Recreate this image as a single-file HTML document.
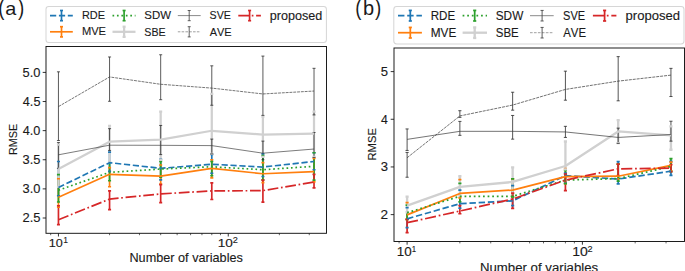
<!DOCTYPE html>
<html><head><meta charset="utf-8"><title>RMSE vs number of variables</title>
<style>
html,body{margin:0;padding:0;background:#fff;}
body{width:685px;height:271px;overflow:hidden;}
svg{display:block;font-family:"Liberation Sans",sans-serif;font-kerning:none;}
</style></head>
<body>
<svg width="685" height="271" viewBox="0 0 685 271">
<rect width="685" height="271" fill="#fff"/>
<defs><clipPath id="cl"><rect x="46.0" y="46.5" width="280.5" height="186.8"/></clipPath><clipPath id="cr"><rect x="394.0" y="48.0" width="290.5" height="193.5"/></clipPath></defs>
<g clip-path="url(#cl)">
<line x1="58.45" y1="161.51" x2="58.45" y2="195.75" stroke="#1f77b4" stroke-width="1.68"/>
<line x1="109.56" y1="152.19" x2="109.56" y2="171.41" stroke="#1f77b4" stroke-width="1.68"/>
<line x1="160.68" y1="159.35" x2="160.68" y2="179.85" stroke="#1f77b4" stroke-width="1.68"/>
<line x1="211.79" y1="154.52" x2="211.79" y2="173.27" stroke="#1f77b4" stroke-width="1.68"/>
<line x1="262.91" y1="153.94" x2="262.91" y2="176.47" stroke="#1f77b4" stroke-width="1.68"/>
<line x1="314.02" y1="152.77" x2="314.02" y2="169.72" stroke="#1f77b4" stroke-width="1.68"/>
<line x1="58.45" y1="178.75" x2="58.45" y2="207.28" stroke="#ff7f0e" stroke-width="1.68"/>
<line x1="109.56" y1="167.62" x2="109.56" y2="186.78" stroke="#ff7f0e" stroke-width="1.68"/>
<line x1="160.68" y1="165.00" x2="160.68" y2="183.99" stroke="#ff7f0e" stroke-width="1.68"/>
<line x1="211.79" y1="159.76" x2="211.79" y2="177.81" stroke="#ff7f0e" stroke-width="1.68"/>
<line x1="262.91" y1="162.67" x2="262.91" y2="182.65" stroke="#ff7f0e" stroke-width="1.68"/>
<line x1="314.02" y1="158.30" x2="314.02" y2="181.89" stroke="#ff7f0e" stroke-width="1.68"/>
<line x1="58.45" y1="174.67" x2="58.45" y2="201.98" stroke="#2ca02c" stroke-width="1.68"/>
<line x1="109.56" y1="162.09" x2="109.56" y2="180.73" stroke="#2ca02c" stroke-width="1.68"/>
<line x1="160.68" y1="161.51" x2="160.68" y2="177.23" stroke="#2ca02c" stroke-width="1.68"/>
<line x1="211.79" y1="161.51" x2="211.79" y2="175.78" stroke="#2ca02c" stroke-width="1.68"/>
<line x1="262.91" y1="155.57" x2="262.91" y2="179.85" stroke="#2ca02c" stroke-width="1.68"/>
<line x1="314.02" y1="152.77" x2="314.02" y2="180.14" stroke="#2ca02c" stroke-width="1.68"/>
<line x1="58.45" y1="144.62" x2="58.45" y2="186.84" stroke="#d0d0d0" stroke-width="2.24"/>
<line x1="109.56" y1="125.75" x2="109.56" y2="162.09" stroke="#d0d0d0" stroke-width="2.24"/>
<line x1="160.68" y1="111.60" x2="160.68" y2="159.76" stroke="#d0d0d0" stroke-width="2.24"/>
<line x1="211.79" y1="93.95" x2="211.79" y2="153.94" stroke="#d0d0d0" stroke-width="2.24"/>
<line x1="262.91" y1="116.66" x2="262.91" y2="156.85" stroke="#d0d0d0" stroke-width="2.24"/>
<line x1="314.02" y1="111.60" x2="314.02" y2="156.85" stroke="#d0d0d0" stroke-width="2.24"/>
<line x1="58.45" y1="142.58" x2="58.45" y2="168.32" stroke="#262626" stroke-width="0.76"/>
<line x1="109.56" y1="128.66" x2="109.56" y2="150.44" stroke="#262626" stroke-width="0.76"/>
<line x1="160.68" y1="125.46" x2="160.68" y2="154.58" stroke="#262626" stroke-width="0.76"/>
<line x1="211.79" y1="139.08" x2="211.79" y2="153.94" stroke="#262626" stroke-width="0.76"/>
<line x1="262.91" y1="141.12" x2="262.91" y2="159.76" stroke="#262626" stroke-width="0.76"/>
<line x1="314.02" y1="132.50" x2="314.02" y2="157.43" stroke="#262626" stroke-width="0.76"/>
<line x1="58.45" y1="71.82" x2="58.45" y2="140.54" stroke="#262626" stroke-width="0.76"/>
<line x1="109.56" y1="56.97" x2="109.56" y2="101.29" stroke="#262626" stroke-width="0.76"/>
<line x1="160.68" y1="54.75" x2="160.68" y2="99.71" stroke="#262626" stroke-width="0.76"/>
<line x1="211.79" y1="65.82" x2="211.79" y2="105.25" stroke="#262626" stroke-width="0.76"/>
<line x1="262.91" y1="56.09" x2="262.91" y2="115.38" stroke="#262626" stroke-width="0.76"/>
<line x1="314.02" y1="68.32" x2="314.02" y2="114.92" stroke="#262626" stroke-width="0.76"/>
<line x1="58.45" y1="205.77" x2="58.45" y2="224.58" stroke="#d62728" stroke-width="1.68"/>
<line x1="109.56" y1="190.92" x2="109.56" y2="209.67" stroke="#d62728" stroke-width="1.68"/>
<line x1="160.68" y1="184.69" x2="160.68" y2="202.57" stroke="#d62728" stroke-width="1.68"/>
<line x1="211.79" y1="182.88" x2="211.79" y2="199.48" stroke="#d62728" stroke-width="1.68"/>
<line x1="262.91" y1="180.14" x2="262.91" y2="202.16" stroke="#d62728" stroke-width="1.68"/>
<line x1="314.02" y1="174.32" x2="314.02" y2="187.89" stroke="#d62728" stroke-width="1.68"/>
<line x1="56.94" y1="195.75" x2="59.96" y2="195.75" stroke="#1f77b4" stroke-width="1.68"/>
<line x1="56.94" y1="161.51" x2="59.96" y2="161.51" stroke="#1f77b4" stroke-width="1.68"/>
<line x1="108.05" y1="171.41" x2="111.08" y2="171.41" stroke="#1f77b4" stroke-width="1.68"/>
<line x1="108.05" y1="152.19" x2="111.08" y2="152.19" stroke="#1f77b4" stroke-width="1.68"/>
<line x1="159.17" y1="179.85" x2="162.19" y2="179.85" stroke="#1f77b4" stroke-width="1.68"/>
<line x1="159.17" y1="159.35" x2="162.19" y2="159.35" stroke="#1f77b4" stroke-width="1.68"/>
<line x1="210.28" y1="173.27" x2="213.31" y2="173.27" stroke="#1f77b4" stroke-width="1.68"/>
<line x1="210.28" y1="154.52" x2="213.31" y2="154.52" stroke="#1f77b4" stroke-width="1.68"/>
<line x1="261.40" y1="176.47" x2="264.42" y2="176.47" stroke="#1f77b4" stroke-width="1.68"/>
<line x1="261.40" y1="153.94" x2="264.42" y2="153.94" stroke="#1f77b4" stroke-width="1.68"/>
<line x1="312.51" y1="169.72" x2="315.54" y2="169.72" stroke="#1f77b4" stroke-width="1.68"/>
<line x1="312.51" y1="152.77" x2="315.54" y2="152.77" stroke="#1f77b4" stroke-width="1.68"/>
<line x1="56.94" y1="207.28" x2="59.96" y2="207.28" stroke="#ff7f0e" stroke-width="1.68"/>
<line x1="56.94" y1="178.75" x2="59.96" y2="178.75" stroke="#ff7f0e" stroke-width="1.68"/>
<line x1="108.05" y1="186.78" x2="111.08" y2="186.78" stroke="#ff7f0e" stroke-width="1.68"/>
<line x1="108.05" y1="167.62" x2="111.08" y2="167.62" stroke="#ff7f0e" stroke-width="1.68"/>
<line x1="159.17" y1="183.99" x2="162.19" y2="183.99" stroke="#ff7f0e" stroke-width="1.68"/>
<line x1="159.17" y1="165.00" x2="162.19" y2="165.00" stroke="#ff7f0e" stroke-width="1.68"/>
<line x1="210.28" y1="177.81" x2="213.31" y2="177.81" stroke="#ff7f0e" stroke-width="1.68"/>
<line x1="210.28" y1="159.76" x2="213.31" y2="159.76" stroke="#ff7f0e" stroke-width="1.68"/>
<line x1="261.40" y1="182.65" x2="264.42" y2="182.65" stroke="#ff7f0e" stroke-width="1.68"/>
<line x1="261.40" y1="162.67" x2="264.42" y2="162.67" stroke="#ff7f0e" stroke-width="1.68"/>
<line x1="312.51" y1="181.89" x2="315.54" y2="181.89" stroke="#ff7f0e" stroke-width="1.68"/>
<line x1="312.51" y1="158.30" x2="315.54" y2="158.30" stroke="#ff7f0e" stroke-width="1.68"/>
<line x1="56.94" y1="201.98" x2="59.96" y2="201.98" stroke="#2ca02c" stroke-width="1.68"/>
<line x1="56.94" y1="174.67" x2="59.96" y2="174.67" stroke="#2ca02c" stroke-width="1.68"/>
<line x1="108.05" y1="180.73" x2="111.08" y2="180.73" stroke="#2ca02c" stroke-width="1.68"/>
<line x1="108.05" y1="162.09" x2="111.08" y2="162.09" stroke="#2ca02c" stroke-width="1.68"/>
<line x1="159.17" y1="177.23" x2="162.19" y2="177.23" stroke="#2ca02c" stroke-width="1.68"/>
<line x1="159.17" y1="161.51" x2="162.19" y2="161.51" stroke="#2ca02c" stroke-width="1.68"/>
<line x1="210.28" y1="175.78" x2="213.31" y2="175.78" stroke="#2ca02c" stroke-width="1.68"/>
<line x1="210.28" y1="161.51" x2="213.31" y2="161.51" stroke="#2ca02c" stroke-width="1.68"/>
<line x1="261.40" y1="179.85" x2="264.42" y2="179.85" stroke="#2ca02c" stroke-width="1.68"/>
<line x1="261.40" y1="155.57" x2="264.42" y2="155.57" stroke="#2ca02c" stroke-width="1.68"/>
<line x1="312.51" y1="180.14" x2="315.54" y2="180.14" stroke="#2ca02c" stroke-width="1.68"/>
<line x1="312.51" y1="152.77" x2="315.54" y2="152.77" stroke="#2ca02c" stroke-width="1.68"/>
<line x1="56.94" y1="186.84" x2="59.96" y2="186.84" stroke="#d0d0d0" stroke-width="2.24"/>
<line x1="56.94" y1="144.62" x2="59.96" y2="144.62" stroke="#d0d0d0" stroke-width="2.24"/>
<line x1="108.05" y1="162.09" x2="111.08" y2="162.09" stroke="#d0d0d0" stroke-width="2.24"/>
<line x1="108.05" y1="125.75" x2="111.08" y2="125.75" stroke="#d0d0d0" stroke-width="2.24"/>
<line x1="159.17" y1="159.76" x2="162.19" y2="159.76" stroke="#d0d0d0" stroke-width="2.24"/>
<line x1="159.17" y1="111.60" x2="162.19" y2="111.60" stroke="#d0d0d0" stroke-width="2.24"/>
<line x1="210.28" y1="153.94" x2="213.31" y2="153.94" stroke="#d0d0d0" stroke-width="2.24"/>
<line x1="210.28" y1="93.95" x2="213.31" y2="93.95" stroke="#d0d0d0" stroke-width="2.24"/>
<line x1="261.40" y1="156.85" x2="264.42" y2="156.85" stroke="#d0d0d0" stroke-width="2.24"/>
<line x1="261.40" y1="116.66" x2="264.42" y2="116.66" stroke="#d0d0d0" stroke-width="2.24"/>
<line x1="312.51" y1="156.85" x2="315.54" y2="156.85" stroke="#d0d0d0" stroke-width="2.24"/>
<line x1="312.51" y1="111.60" x2="315.54" y2="111.60" stroke="#d0d0d0" stroke-width="2.24"/>
<line x1="56.94" y1="168.32" x2="59.96" y2="168.32" stroke="#262626" stroke-width="0.76"/>
<line x1="56.94" y1="142.58" x2="59.96" y2="142.58" stroke="#262626" stroke-width="0.76"/>
<line x1="108.05" y1="150.44" x2="111.08" y2="150.44" stroke="#262626" stroke-width="0.76"/>
<line x1="108.05" y1="128.66" x2="111.08" y2="128.66" stroke="#262626" stroke-width="0.76"/>
<line x1="159.17" y1="154.58" x2="162.19" y2="154.58" stroke="#262626" stroke-width="0.76"/>
<line x1="159.17" y1="125.46" x2="162.19" y2="125.46" stroke="#262626" stroke-width="0.76"/>
<line x1="210.28" y1="153.94" x2="213.31" y2="153.94" stroke="#262626" stroke-width="0.76"/>
<line x1="210.28" y1="139.08" x2="213.31" y2="139.08" stroke="#262626" stroke-width="0.76"/>
<line x1="261.40" y1="159.76" x2="264.42" y2="159.76" stroke="#262626" stroke-width="0.76"/>
<line x1="261.40" y1="141.12" x2="264.42" y2="141.12" stroke="#262626" stroke-width="0.76"/>
<line x1="312.51" y1="157.43" x2="315.54" y2="157.43" stroke="#262626" stroke-width="0.76"/>
<line x1="312.51" y1="132.50" x2="315.54" y2="132.50" stroke="#262626" stroke-width="0.76"/>
<line x1="56.94" y1="140.54" x2="59.96" y2="140.54" stroke="#262626" stroke-width="0.76"/>
<line x1="56.94" y1="71.82" x2="59.96" y2="71.82" stroke="#262626" stroke-width="0.76"/>
<line x1="108.05" y1="101.29" x2="111.08" y2="101.29" stroke="#262626" stroke-width="0.76"/>
<line x1="108.05" y1="56.97" x2="111.08" y2="56.97" stroke="#262626" stroke-width="0.76"/>
<line x1="159.17" y1="99.71" x2="162.19" y2="99.71" stroke="#262626" stroke-width="0.76"/>
<line x1="159.17" y1="54.75" x2="162.19" y2="54.75" stroke="#262626" stroke-width="0.76"/>
<line x1="210.28" y1="105.25" x2="213.31" y2="105.25" stroke="#262626" stroke-width="0.76"/>
<line x1="210.28" y1="65.82" x2="213.31" y2="65.82" stroke="#262626" stroke-width="0.76"/>
<line x1="261.40" y1="115.38" x2="264.42" y2="115.38" stroke="#262626" stroke-width="0.76"/>
<line x1="261.40" y1="56.09" x2="264.42" y2="56.09" stroke="#262626" stroke-width="0.76"/>
<line x1="312.51" y1="114.92" x2="315.54" y2="114.92" stroke="#262626" stroke-width="0.76"/>
<line x1="312.51" y1="68.32" x2="315.54" y2="68.32" stroke="#262626" stroke-width="0.76"/>
<line x1="56.94" y1="224.58" x2="59.96" y2="224.58" stroke="#d62728" stroke-width="1.68"/>
<line x1="56.94" y1="205.77" x2="59.96" y2="205.77" stroke="#d62728" stroke-width="1.68"/>
<line x1="108.05" y1="209.67" x2="111.08" y2="209.67" stroke="#d62728" stroke-width="1.68"/>
<line x1="108.05" y1="190.92" x2="111.08" y2="190.92" stroke="#d62728" stroke-width="1.68"/>
<line x1="159.17" y1="202.57" x2="162.19" y2="202.57" stroke="#d62728" stroke-width="1.68"/>
<line x1="159.17" y1="184.69" x2="162.19" y2="184.69" stroke="#d62728" stroke-width="1.68"/>
<line x1="210.28" y1="199.48" x2="213.31" y2="199.48" stroke="#d62728" stroke-width="1.68"/>
<line x1="210.28" y1="182.88" x2="213.31" y2="182.88" stroke="#d62728" stroke-width="1.68"/>
<line x1="261.40" y1="202.16" x2="264.42" y2="202.16" stroke="#d62728" stroke-width="1.68"/>
<line x1="261.40" y1="180.14" x2="264.42" y2="180.14" stroke="#d62728" stroke-width="1.68"/>
<line x1="312.51" y1="187.89" x2="315.54" y2="187.89" stroke="#d62728" stroke-width="1.68"/>
<line x1="312.51" y1="174.32" x2="315.54" y2="174.32" stroke="#d62728" stroke-width="1.68"/>
<polyline points="58.45,187.48 109.56,162.67 160.68,168.32 211.79,164.24 262.91,167.04 314.02,161.51" fill="none" stroke="#1f77b4" stroke-width="1.68" stroke-dasharray="6.22,2.69" stroke-linejoin="round"/>
<polyline points="58.45,197.15 109.56,174.32 160.68,176.07 211.79,168.32 262.91,173.74 314.02,171.70" fill="none" stroke="#ff7f0e" stroke-width="1.68" stroke-linejoin="round"/>
<polyline points="58.45,190.22 109.56,172.34 160.68,169.08 211.79,166.75 262.91,169.72 314.02,166.34" fill="none" stroke="#2ca02c" stroke-width="1.68" stroke-dasharray="1.68,2.77" stroke-linejoin="round"/>
<polyline points="58.45,169.08 109.56,141.71 160.68,139.61 211.79,130.76 262.91,134.60 314.02,133.55" fill="none" stroke="#d0d0d0" stroke-width="2.24" stroke-linejoin="round"/>
<polyline points="58.45,154.81 109.56,145.20 160.68,145.32 211.79,145.61 262.91,153.18 314.02,149.04" fill="none" stroke="#3a3a3a" stroke-width="0.67" stroke-linejoin="round"/>
<polyline points="58.45,106.59 109.56,76.94 160.68,84.28 211.79,88.12 262.91,93.95 314.02,91.04" fill="none" stroke="#333333" stroke-width="0.67" stroke-dasharray="2.91,0.90" stroke-linejoin="round"/>
<polyline points="58.45,219.75 109.56,199.07 160.68,193.89 211.79,190.92 262.91,190.63 314.02,182.01" fill="none" stroke="#d62728" stroke-width="1.68" stroke-dasharray="10.75,2.69,1.68,2.69" stroke-linejoin="round"/>
</g>
<line x1="42.70" y1="218.00" x2="46.00" y2="218.00" stroke="#111" stroke-width="0.85"/>
<line x1="42.70" y1="188.88" x2="46.00" y2="188.88" stroke="#111" stroke-width="0.85"/>
<line x1="42.70" y1="159.76" x2="46.00" y2="159.76" stroke="#111" stroke-width="0.85"/>
<line x1="42.70" y1="130.64" x2="46.00" y2="130.64" stroke="#111" stroke-width="0.85"/>
<line x1="42.70" y1="101.52" x2="46.00" y2="101.52" stroke="#111" stroke-width="0.85"/>
<line x1="42.70" y1="72.40" x2="46.00" y2="72.40" stroke="#111" stroke-width="0.85"/>
<line x1="58.45" y1="233.30" x2="58.45" y2="236.50" stroke="#111" stroke-width="0.85"/>
<line x1="228.25" y1="233.30" x2="228.25" y2="236.50" stroke="#111" stroke-width="0.85"/>
<line x1="50.68" y1="233.30" x2="50.68" y2="235.20" stroke="#222" stroke-width="0.7"/>
<line x1="109.56" y1="233.30" x2="109.56" y2="235.20" stroke="#222" stroke-width="0.7"/>
<line x1="139.47" y1="233.30" x2="139.47" y2="235.20" stroke="#222" stroke-width="0.7"/>
<line x1="160.68" y1="233.30" x2="160.68" y2="235.20" stroke="#222" stroke-width="0.7"/>
<line x1="177.14" y1="233.30" x2="177.14" y2="235.20" stroke="#222" stroke-width="0.7"/>
<line x1="190.58" y1="233.30" x2="190.58" y2="235.20" stroke="#222" stroke-width="0.7"/>
<line x1="201.95" y1="233.30" x2="201.95" y2="235.20" stroke="#222" stroke-width="0.7"/>
<line x1="211.79" y1="233.30" x2="211.79" y2="235.20" stroke="#222" stroke-width="0.7"/>
<line x1="220.48" y1="233.30" x2="220.48" y2="235.20" stroke="#222" stroke-width="0.7"/>
<line x1="279.36" y1="233.30" x2="279.36" y2="235.20" stroke="#222" stroke-width="0.7"/>
<line x1="309.27" y1="233.30" x2="309.27" y2="235.20" stroke="#222" stroke-width="0.7"/>
<rect x="46.00" y="46.50" width="280.50" height="186.80" fill="none" stroke="#111" stroke-width="0.95"/>
<text x="22.45" y="222.30" font-size="12.3" textLength="18.05" lengthAdjust="spacingAndGlyphs" fill="#1a1a1a" stroke="#1a1a1a" stroke-width="0.12">2.5</text>
<text x="22.61" y="193.18" font-size="12.3" textLength="17.84" lengthAdjust="spacingAndGlyphs" fill="#1a1a1a" stroke="#1a1a1a" stroke-width="0.12">3.0</text>
<text x="22.61" y="164.06" font-size="12.3" textLength="17.88" lengthAdjust="spacingAndGlyphs" fill="#1a1a1a" stroke="#1a1a1a" stroke-width="0.12">3.5</text>
<text x="22.81" y="134.94" font-size="12.3" textLength="17.64" lengthAdjust="spacingAndGlyphs" fill="#1a1a1a" stroke="#1a1a1a" stroke-width="0.12">4.0</text>
<text x="22.81" y="105.82" font-size="12.3" textLength="17.68" lengthAdjust="spacingAndGlyphs" fill="#1a1a1a" stroke="#1a1a1a" stroke-width="0.12">4.5</text>
<text x="22.59" y="76.70" font-size="12.3" textLength="17.87" lengthAdjust="spacingAndGlyphs" fill="#1a1a1a" stroke="#1a1a1a" stroke-width="0.12">5.0</text>
<text x="48.84" y="246.90" font-size="11.2" textLength="14.06" lengthAdjust="spacingAndGlyphs" fill="#1a1a1a" stroke="#1a1a1a" stroke-width="0.12">10</text>
<text x="63.25" y="242.70" font-size="8.8" textLength="4.77" lengthAdjust="spacingAndGlyphs" fill="#1a1a1a" stroke="#1a1a1a" stroke-width="0.12">1</text>
<text x="217.76" y="246.90" font-size="11.2" textLength="15.17" lengthAdjust="spacingAndGlyphs" fill="#1a1a1a" stroke="#1a1a1a" stroke-width="0.12">10</text>
<text x="232.74" y="242.50" font-size="8.8" textLength="5.13" lengthAdjust="spacingAndGlyphs" fill="#1a1a1a" stroke="#1a1a1a" stroke-width="0.12">2</text>
<text x="129.46" y="261.70" font-size="11.9" textLength="113.40" lengthAdjust="spacingAndGlyphs" fill="#1a1a1a" stroke="#1a1a1a" stroke-width="0.12">Number of variables</text>
<text transform="translate(16.60,155.08) rotate(-90)" x="0" y="0" font-size="10.6" textLength="31.15" lengthAdjust="spacingAndGlyphs" fill="#1a1a1a" stroke="#1a1a1a" stroke-width="0.12">RMSE</text>
<text x="-1.65" y="14.60" font-size="21.5" textLength="6.15" lengthAdjust="spacingAndGlyphs" fill="#1a1a1a">(</text>
<text x="5.16" y="14.60" font-size="19.0" textLength="11.04" lengthAdjust="spacingAndGlyphs" fill="#1a1a1a">a</text>
<text x="18.09" y="14.60" font-size="21.5" textLength="6.28" lengthAdjust="spacingAndGlyphs" fill="#1a1a1a">)</text>
<rect x="46.00" y="6.40" width="280.40" height="36.10" rx="2.80" fill="#fff" fill-opacity="0.8" stroke="#d6d6d6" stroke-width="1.01"/>
<line x1="50.00" y1="15.60" x2="72.80" y2="15.60" stroke="#1f77b4" stroke-width="1.68" stroke-dasharray="6.22,2.69"/>
<line x1="61.50" y1="10.50" x2="61.50" y2="20.70" stroke="#1f77b4" stroke-width="1.68"/>
<line x1="59.99" y1="10.50" x2="63.01" y2="10.50" stroke="#1f77b4" stroke-width="1.68"/>
<line x1="59.99" y1="20.70" x2="63.01" y2="20.70" stroke="#1f77b4" stroke-width="1.68"/>
<text x="81.90" y="19.10" font-size="11.5" textLength="23.07" lengthAdjust="spacingAndGlyphs" fill="#1a1a1a" stroke="#1a1a1a" stroke-width="0.12">RDE</text>
<line x1="50.00" y1="31.80" x2="72.80" y2="31.80" stroke="#ff7f0e" stroke-width="1.68"/>
<line x1="61.50" y1="26.70" x2="61.50" y2="36.90" stroke="#ff7f0e" stroke-width="1.68"/>
<line x1="59.99" y1="26.70" x2="63.01" y2="26.70" stroke="#ff7f0e" stroke-width="1.68"/>
<line x1="59.99" y1="36.90" x2="63.01" y2="36.90" stroke="#ff7f0e" stroke-width="1.68"/>
<text x="81.89" y="35.30" font-size="11.5" textLength="24.09" lengthAdjust="spacingAndGlyphs" fill="#1a1a1a" stroke="#1a1a1a" stroke-width="0.12">MVE</text>
<line x1="112.50" y1="15.60" x2="135.50" y2="15.60" stroke="#2ca02c" stroke-width="1.68" stroke-dasharray="1.68,2.77"/>
<line x1="124.10" y1="10.50" x2="124.10" y2="20.70" stroke="#2ca02c" stroke-width="1.68"/>
<line x1="122.59" y1="10.50" x2="125.61" y2="10.50" stroke="#2ca02c" stroke-width="1.68"/>
<line x1="122.59" y1="20.70" x2="125.61" y2="20.70" stroke="#2ca02c" stroke-width="1.68"/>
<text x="144.28" y="19.20" font-size="11.5" textLength="26.66" lengthAdjust="spacingAndGlyphs" fill="#1a1a1a" stroke="#1a1a1a" stroke-width="0.12">SDW</text>
<line x1="112.50" y1="31.80" x2="135.50" y2="31.80" stroke="#d0d0d0" stroke-width="2.24"/>
<line x1="124.10" y1="26.70" x2="124.10" y2="36.90" stroke="#d0d0d0" stroke-width="2.24"/>
<line x1="122.59" y1="26.70" x2="125.61" y2="26.70" stroke="#d0d0d0" stroke-width="2.24"/>
<line x1="122.59" y1="36.90" x2="125.61" y2="36.90" stroke="#d0d0d0" stroke-width="2.24"/>
<text x="144.32" y="35.60" font-size="11.5" textLength="21.34" lengthAdjust="spacingAndGlyphs" fill="#1a1a1a" stroke="#1a1a1a" stroke-width="0.12">SBE</text>
<line x1="177.80" y1="15.60" x2="200.70" y2="15.60" stroke="#8a8a8a" stroke-width="1.00"/>
<line x1="189.20" y1="10.50" x2="189.20" y2="20.70" stroke="#444444" stroke-width="0.84"/>
<line x1="187.69" y1="10.50" x2="190.71" y2="10.50" stroke="#444444" stroke-width="0.84"/>
<line x1="187.69" y1="20.70" x2="190.71" y2="20.70" stroke="#444444" stroke-width="0.84"/>
<text x="209.62" y="19.20" font-size="11.5" textLength="21.24" lengthAdjust="spacingAndGlyphs" fill="#1a1a1a" stroke="#1a1a1a" stroke-width="0.12">SVE</text>
<line x1="177.80" y1="31.80" x2="200.70" y2="31.80" stroke="#a0a0a0" stroke-width="1.00" stroke-dasharray="2.58,1.23"/>
<line x1="189.20" y1="26.70" x2="189.20" y2="36.90" stroke="#444444" stroke-width="0.84"/>
<line x1="187.69" y1="26.70" x2="190.71" y2="26.70" stroke="#444444" stroke-width="0.84"/>
<line x1="187.69" y1="36.90" x2="190.71" y2="36.90" stroke="#444444" stroke-width="0.84"/>
<text x="209.68" y="35.50" font-size="11.5" textLength="21.89" lengthAdjust="spacingAndGlyphs" fill="#1a1a1a" stroke="#1a1a1a" stroke-width="0.12">AVE</text>
<line x1="238.30" y1="15.60" x2="260.90" y2="15.60" stroke="#d62728" stroke-width="1.68" stroke-dasharray="10.75,2.69,1.68,2.69"/>
<line x1="249.60" y1="10.50" x2="249.60" y2="20.70" stroke="#d62728" stroke-width="1.68"/>
<line x1="248.09" y1="10.50" x2="251.11" y2="10.50" stroke="#d62728" stroke-width="1.68"/>
<line x1="248.09" y1="20.70" x2="251.11" y2="20.70" stroke="#d62728" stroke-width="1.68"/>
<text x="269.69" y="19.50" font-size="12.0" textLength="52.52" lengthAdjust="spacingAndGlyphs" fill="#1a1a1a" stroke="#1a1a1a" stroke-width="0.12">proposed</text>
<g clip-path="url(#cr)">
<line x1="407.10" y1="207.65" x2="407.10" y2="227.72" stroke="#1f77b4" stroke-width="1.74"/>
<line x1="459.87" y1="190.06" x2="459.87" y2="208.22" stroke="#1f77b4" stroke-width="1.74"/>
<line x1="512.64" y1="185.63" x2="512.64" y2="205.55" stroke="#1f77b4" stroke-width="1.74"/>
<line x1="565.41" y1="173.04" x2="565.41" y2="183.15" stroke="#1f77b4" stroke-width="1.74"/>
<line x1="618.18" y1="161.55" x2="618.18" y2="183.86" stroke="#1f77b4" stroke-width="1.74"/>
<line x1="670.95" y1="161.36" x2="670.95" y2="175.33" stroke="#1f77b4" stroke-width="1.74"/>
<line x1="407.10" y1="202.74" x2="407.10" y2="219.38" stroke="#ff7f0e" stroke-width="1.74"/>
<line x1="459.87" y1="179.67" x2="459.87" y2="197.93" stroke="#ff7f0e" stroke-width="1.74"/>
<line x1="512.64" y1="178.86" x2="512.64" y2="196.97" stroke="#ff7f0e" stroke-width="1.74"/>
<line x1="565.41" y1="168.51" x2="565.41" y2="183.62" stroke="#ff7f0e" stroke-width="1.74"/>
<line x1="618.18" y1="164.03" x2="618.18" y2="178.86" stroke="#ff7f0e" stroke-width="1.74"/>
<line x1="670.95" y1="162.17" x2="670.95" y2="170.75" stroke="#ff7f0e" stroke-width="1.74"/>
<line x1="407.10" y1="205.08" x2="407.10" y2="219.38" stroke="#2ca02c" stroke-width="1.74"/>
<line x1="459.87" y1="183.43" x2="459.87" y2="201.83" stroke="#2ca02c" stroke-width="1.74"/>
<line x1="512.64" y1="178.86" x2="512.64" y2="196.97" stroke="#2ca02c" stroke-width="1.74"/>
<line x1="565.41" y1="170.42" x2="565.41" y2="183.62" stroke="#2ca02c" stroke-width="1.74"/>
<line x1="618.18" y1="164.08" x2="618.18" y2="181.05" stroke="#2ca02c" stroke-width="1.74"/>
<line x1="670.95" y1="158.55" x2="670.95" y2="171.71" stroke="#2ca02c" stroke-width="1.74"/>
<line x1="407.10" y1="196.64" x2="407.10" y2="212.23" stroke="#d0d0d0" stroke-width="2.32"/>
<line x1="459.87" y1="176.24" x2="459.87" y2="195.54" stroke="#d0d0d0" stroke-width="2.32"/>
<line x1="512.64" y1="167.32" x2="512.64" y2="193.16" stroke="#d0d0d0" stroke-width="2.32"/>
<line x1="565.41" y1="141.53" x2="565.41" y2="169.32" stroke="#d0d0d0" stroke-width="2.32"/>
<line x1="618.18" y1="120.13" x2="618.18" y2="143.10" stroke="#d0d0d0" stroke-width="2.32"/>
<line x1="670.95" y1="126.42" x2="670.95" y2="149.78" stroke="#d0d0d0" stroke-width="2.32"/>
<line x1="407.10" y1="128.95" x2="407.10" y2="150.45" stroke="#262626" stroke-width="0.79"/>
<line x1="459.87" y1="121.42" x2="459.87" y2="135.33" stroke="#262626" stroke-width="0.79"/>
<line x1="512.64" y1="115.46" x2="512.64" y2="139.15" stroke="#262626" stroke-width="0.79"/>
<line x1="565.41" y1="126.33" x2="565.41" y2="137.43" stroke="#262626" stroke-width="0.79"/>
<line x1="618.18" y1="128.14" x2="618.18" y2="143.34" stroke="#262626" stroke-width="0.79"/>
<line x1="670.95" y1="121.22" x2="670.95" y2="141.15" stroke="#262626" stroke-width="0.79"/>
<line x1="407.10" y1="152.45" x2="407.10" y2="177.24" stroke="#262626" stroke-width="0.79"/>
<line x1="459.87" y1="110.69" x2="459.87" y2="117.36" stroke="#262626" stroke-width="0.79"/>
<line x1="512.64" y1="92.24" x2="512.64" y2="110.17" stroke="#262626" stroke-width="0.79"/>
<line x1="565.41" y1="71.17" x2="565.41" y2="100.20" stroke="#262626" stroke-width="0.79"/>
<line x1="618.18" y1="56.63" x2="618.18" y2="100.82" stroke="#262626" stroke-width="0.79"/>
<line x1="670.95" y1="68.36" x2="670.95" y2="96.53" stroke="#262626" stroke-width="0.79"/>
<line x1="407.10" y1="219.38" x2="407.10" y2="232.53" stroke="#d62728" stroke-width="1.74"/>
<line x1="459.87" y1="205.55" x2="459.87" y2="213.75" stroke="#d62728" stroke-width="1.74"/>
<line x1="512.64" y1="193.16" x2="512.64" y2="208.27" stroke="#d62728" stroke-width="1.74"/>
<line x1="565.41" y1="174.09" x2="565.41" y2="190.54" stroke="#d62728" stroke-width="1.74"/>
<line x1="618.18" y1="164.03" x2="618.18" y2="175.62" stroke="#d62728" stroke-width="1.74"/>
<line x1="670.95" y1="164.56" x2="670.95" y2="171.71" stroke="#d62728" stroke-width="1.74"/>
<line x1="405.54" y1="227.72" x2="408.66" y2="227.72" stroke="#1f77b4" stroke-width="1.74"/>
<line x1="405.54" y1="207.65" x2="408.66" y2="207.65" stroke="#1f77b4" stroke-width="1.74"/>
<line x1="458.31" y1="208.22" x2="461.44" y2="208.22" stroke="#1f77b4" stroke-width="1.74"/>
<line x1="458.31" y1="190.06" x2="461.44" y2="190.06" stroke="#1f77b4" stroke-width="1.74"/>
<line x1="511.08" y1="205.55" x2="514.21" y2="205.55" stroke="#1f77b4" stroke-width="1.74"/>
<line x1="511.08" y1="185.63" x2="514.21" y2="185.63" stroke="#1f77b4" stroke-width="1.74"/>
<line x1="563.85" y1="183.15" x2="566.98" y2="183.15" stroke="#1f77b4" stroke-width="1.74"/>
<line x1="563.85" y1="173.04" x2="566.98" y2="173.04" stroke="#1f77b4" stroke-width="1.74"/>
<line x1="616.62" y1="183.86" x2="619.75" y2="183.86" stroke="#1f77b4" stroke-width="1.74"/>
<line x1="616.62" y1="161.55" x2="619.75" y2="161.55" stroke="#1f77b4" stroke-width="1.74"/>
<line x1="669.39" y1="175.33" x2="672.52" y2="175.33" stroke="#1f77b4" stroke-width="1.74"/>
<line x1="669.39" y1="161.36" x2="672.52" y2="161.36" stroke="#1f77b4" stroke-width="1.74"/>
<line x1="405.54" y1="219.38" x2="408.66" y2="219.38" stroke="#ff7f0e" stroke-width="1.74"/>
<line x1="405.54" y1="202.74" x2="408.66" y2="202.74" stroke="#ff7f0e" stroke-width="1.74"/>
<line x1="458.31" y1="197.93" x2="461.44" y2="197.93" stroke="#ff7f0e" stroke-width="1.74"/>
<line x1="458.31" y1="179.67" x2="461.44" y2="179.67" stroke="#ff7f0e" stroke-width="1.74"/>
<line x1="511.08" y1="196.97" x2="514.21" y2="196.97" stroke="#ff7f0e" stroke-width="1.74"/>
<line x1="511.08" y1="178.86" x2="514.21" y2="178.86" stroke="#ff7f0e" stroke-width="1.74"/>
<line x1="563.85" y1="183.62" x2="566.98" y2="183.62" stroke="#ff7f0e" stroke-width="1.74"/>
<line x1="563.85" y1="168.51" x2="566.98" y2="168.51" stroke="#ff7f0e" stroke-width="1.74"/>
<line x1="616.62" y1="178.86" x2="619.75" y2="178.86" stroke="#ff7f0e" stroke-width="1.74"/>
<line x1="616.62" y1="164.03" x2="619.75" y2="164.03" stroke="#ff7f0e" stroke-width="1.74"/>
<line x1="669.39" y1="170.75" x2="672.52" y2="170.75" stroke="#ff7f0e" stroke-width="1.74"/>
<line x1="669.39" y1="162.17" x2="672.52" y2="162.17" stroke="#ff7f0e" stroke-width="1.74"/>
<line x1="405.54" y1="219.38" x2="408.66" y2="219.38" stroke="#2ca02c" stroke-width="1.74"/>
<line x1="405.54" y1="205.08" x2="408.66" y2="205.08" stroke="#2ca02c" stroke-width="1.74"/>
<line x1="458.31" y1="201.83" x2="461.44" y2="201.83" stroke="#2ca02c" stroke-width="1.74"/>
<line x1="458.31" y1="183.43" x2="461.44" y2="183.43" stroke="#2ca02c" stroke-width="1.74"/>
<line x1="511.08" y1="196.97" x2="514.21" y2="196.97" stroke="#2ca02c" stroke-width="1.74"/>
<line x1="511.08" y1="178.86" x2="514.21" y2="178.86" stroke="#2ca02c" stroke-width="1.74"/>
<line x1="563.85" y1="183.62" x2="566.98" y2="183.62" stroke="#2ca02c" stroke-width="1.74"/>
<line x1="563.85" y1="170.42" x2="566.98" y2="170.42" stroke="#2ca02c" stroke-width="1.74"/>
<line x1="616.62" y1="181.05" x2="619.75" y2="181.05" stroke="#2ca02c" stroke-width="1.74"/>
<line x1="616.62" y1="164.08" x2="619.75" y2="164.08" stroke="#2ca02c" stroke-width="1.74"/>
<line x1="669.39" y1="171.71" x2="672.52" y2="171.71" stroke="#2ca02c" stroke-width="1.74"/>
<line x1="669.39" y1="158.55" x2="672.52" y2="158.55" stroke="#2ca02c" stroke-width="1.74"/>
<line x1="405.54" y1="212.23" x2="408.66" y2="212.23" stroke="#d0d0d0" stroke-width="2.32"/>
<line x1="405.54" y1="196.64" x2="408.66" y2="196.64" stroke="#d0d0d0" stroke-width="2.32"/>
<line x1="458.31" y1="195.54" x2="461.44" y2="195.54" stroke="#d0d0d0" stroke-width="2.32"/>
<line x1="458.31" y1="176.24" x2="461.44" y2="176.24" stroke="#d0d0d0" stroke-width="2.32"/>
<line x1="511.08" y1="193.16" x2="514.21" y2="193.16" stroke="#d0d0d0" stroke-width="2.32"/>
<line x1="511.08" y1="167.32" x2="514.21" y2="167.32" stroke="#d0d0d0" stroke-width="2.32"/>
<line x1="563.85" y1="169.32" x2="566.98" y2="169.32" stroke="#d0d0d0" stroke-width="2.32"/>
<line x1="563.85" y1="141.53" x2="566.98" y2="141.53" stroke="#d0d0d0" stroke-width="2.32"/>
<line x1="616.62" y1="143.10" x2="619.75" y2="143.10" stroke="#d0d0d0" stroke-width="2.32"/>
<line x1="616.62" y1="120.13" x2="619.75" y2="120.13" stroke="#d0d0d0" stroke-width="2.32"/>
<line x1="669.39" y1="149.78" x2="672.52" y2="149.78" stroke="#d0d0d0" stroke-width="2.32"/>
<line x1="669.39" y1="126.42" x2="672.52" y2="126.42" stroke="#d0d0d0" stroke-width="2.32"/>
<line x1="405.54" y1="150.45" x2="408.66" y2="150.45" stroke="#262626" stroke-width="0.79"/>
<line x1="405.54" y1="128.95" x2="408.66" y2="128.95" stroke="#262626" stroke-width="0.79"/>
<line x1="458.31" y1="135.33" x2="461.44" y2="135.33" stroke="#262626" stroke-width="0.79"/>
<line x1="458.31" y1="121.42" x2="461.44" y2="121.42" stroke="#262626" stroke-width="0.79"/>
<line x1="511.08" y1="139.15" x2="514.21" y2="139.15" stroke="#262626" stroke-width="0.79"/>
<line x1="511.08" y1="115.46" x2="514.21" y2="115.46" stroke="#262626" stroke-width="0.79"/>
<line x1="563.85" y1="137.43" x2="566.98" y2="137.43" stroke="#262626" stroke-width="0.79"/>
<line x1="563.85" y1="126.33" x2="566.98" y2="126.33" stroke="#262626" stroke-width="0.79"/>
<line x1="616.62" y1="143.34" x2="619.75" y2="143.34" stroke="#262626" stroke-width="0.79"/>
<line x1="616.62" y1="128.14" x2="619.75" y2="128.14" stroke="#262626" stroke-width="0.79"/>
<line x1="669.39" y1="141.15" x2="672.52" y2="141.15" stroke="#262626" stroke-width="0.79"/>
<line x1="669.39" y1="121.22" x2="672.52" y2="121.22" stroke="#262626" stroke-width="0.79"/>
<line x1="405.54" y1="177.24" x2="408.66" y2="177.24" stroke="#262626" stroke-width="0.79"/>
<line x1="405.54" y1="152.45" x2="408.66" y2="152.45" stroke="#262626" stroke-width="0.79"/>
<line x1="458.31" y1="117.36" x2="461.44" y2="117.36" stroke="#262626" stroke-width="0.79"/>
<line x1="458.31" y1="110.69" x2="461.44" y2="110.69" stroke="#262626" stroke-width="0.79"/>
<line x1="511.08" y1="110.17" x2="514.21" y2="110.17" stroke="#262626" stroke-width="0.79"/>
<line x1="511.08" y1="92.24" x2="514.21" y2="92.24" stroke="#262626" stroke-width="0.79"/>
<line x1="563.85" y1="100.20" x2="566.98" y2="100.20" stroke="#262626" stroke-width="0.79"/>
<line x1="563.85" y1="71.17" x2="566.98" y2="71.17" stroke="#262626" stroke-width="0.79"/>
<line x1="616.62" y1="100.82" x2="619.75" y2="100.82" stroke="#262626" stroke-width="0.79"/>
<line x1="616.62" y1="56.63" x2="619.75" y2="56.63" stroke="#262626" stroke-width="0.79"/>
<line x1="669.39" y1="96.53" x2="672.52" y2="96.53" stroke="#262626" stroke-width="0.79"/>
<line x1="669.39" y1="68.36" x2="672.52" y2="68.36" stroke="#262626" stroke-width="0.79"/>
<line x1="405.54" y1="232.53" x2="408.66" y2="232.53" stroke="#d62728" stroke-width="1.74"/>
<line x1="405.54" y1="219.38" x2="408.66" y2="219.38" stroke="#d62728" stroke-width="1.74"/>
<line x1="458.31" y1="213.75" x2="461.44" y2="213.75" stroke="#d62728" stroke-width="1.74"/>
<line x1="458.31" y1="205.55" x2="461.44" y2="205.55" stroke="#d62728" stroke-width="1.74"/>
<line x1="511.08" y1="208.27" x2="514.21" y2="208.27" stroke="#d62728" stroke-width="1.74"/>
<line x1="511.08" y1="193.16" x2="514.21" y2="193.16" stroke="#d62728" stroke-width="1.74"/>
<line x1="563.85" y1="190.54" x2="566.98" y2="190.54" stroke="#d62728" stroke-width="1.74"/>
<line x1="563.85" y1="174.09" x2="566.98" y2="174.09" stroke="#d62728" stroke-width="1.74"/>
<line x1="616.62" y1="175.62" x2="619.75" y2="175.62" stroke="#d62728" stroke-width="1.74"/>
<line x1="616.62" y1="164.03" x2="619.75" y2="164.03" stroke="#d62728" stroke-width="1.74"/>
<line x1="669.39" y1="171.71" x2="672.52" y2="171.71" stroke="#d62728" stroke-width="1.74"/>
<line x1="669.39" y1="164.56" x2="672.52" y2="164.56" stroke="#d62728" stroke-width="1.74"/>
<polyline points="407.10,218.80 459.87,203.74 512.64,200.79 565.41,175.66 618.18,179.05 670.95,171.23" fill="none" stroke="#1f77b4" stroke-width="1.74" stroke-dasharray="6.43,2.78" stroke-linejoin="round"/>
<polyline points="407.10,214.85 459.87,193.44 512.64,190.06 565.41,176.62 618.18,176.24 670.95,165.41" fill="none" stroke="#ff7f0e" stroke-width="1.74" stroke-linejoin="round"/>
<polyline points="407.10,212.70 459.87,196.35 512.64,196.35 565.41,180.05 618.18,178.62 670.95,166.46" fill="none" stroke="#2ca02c" stroke-width="1.74" stroke-dasharray="1.74,2.87" stroke-linejoin="round"/>
<polyline points="407.10,205.55 459.87,186.96 512.64,181.96 565.41,165.99 618.18,131.43 670.95,135.33" fill="none" stroke="#d0d0d0" stroke-width="2.32" stroke-linejoin="round"/>
<polyline points="407.10,139.39 459.87,131.33 512.64,131.33 565.41,131.95 618.18,137.43 670.95,134.52" fill="none" stroke="#3a3a3a" stroke-width="0.70" stroke-linejoin="round"/>
<polyline points="407.10,157.74 459.87,115.93 512.64,105.06 565.41,89.43 618.18,81.13 670.95,75.13" fill="none" stroke="#333333" stroke-width="0.70" stroke-dasharray="3.01,0.93" stroke-linejoin="round"/>
<polyline points="407.10,222.71 459.87,211.03 512.64,199.02 565.41,180.14 618.18,168.85 670.95,168.13" fill="none" stroke="#d62728" stroke-width="1.74" stroke-dasharray="11.13,2.78,1.74,2.78" stroke-linejoin="round"/>
</g>
<line x1="390.70" y1="214.61" x2="394.00" y2="214.61" stroke="#111" stroke-width="0.85"/>
<line x1="390.70" y1="166.94" x2="394.00" y2="166.94" stroke="#111" stroke-width="0.85"/>
<line x1="390.70" y1="119.27" x2="394.00" y2="119.27" stroke="#111" stroke-width="0.85"/>
<line x1="390.70" y1="71.60" x2="394.00" y2="71.60" stroke="#111" stroke-width="0.85"/>
<line x1="407.10" y1="241.50" x2="407.10" y2="244.70" stroke="#111" stroke-width="0.85"/>
<line x1="582.40" y1="241.50" x2="582.40" y2="244.70" stroke="#111" stroke-width="0.85"/>
<line x1="399.08" y1="241.50" x2="399.08" y2="243.40" stroke="#222" stroke-width="0.7"/>
<line x1="459.87" y1="241.50" x2="459.87" y2="243.40" stroke="#222" stroke-width="0.7"/>
<line x1="490.74" y1="241.50" x2="490.74" y2="243.40" stroke="#222" stroke-width="0.7"/>
<line x1="512.64" y1="241.50" x2="512.64" y2="243.40" stroke="#222" stroke-width="0.7"/>
<line x1="529.63" y1="241.50" x2="529.63" y2="243.40" stroke="#222" stroke-width="0.7"/>
<line x1="543.51" y1="241.50" x2="543.51" y2="243.40" stroke="#222" stroke-width="0.7"/>
<line x1="555.25" y1="241.50" x2="555.25" y2="243.40" stroke="#222" stroke-width="0.7"/>
<line x1="565.41" y1="241.50" x2="565.41" y2="243.40" stroke="#222" stroke-width="0.7"/>
<line x1="574.38" y1="241.50" x2="574.38" y2="243.40" stroke="#222" stroke-width="0.7"/>
<line x1="635.17" y1="241.50" x2="635.17" y2="243.40" stroke="#222" stroke-width="0.7"/>
<line x1="666.04" y1="241.50" x2="666.04" y2="243.40" stroke="#222" stroke-width="0.7"/>
<rect x="394.00" y="48.00" width="290.50" height="193.50" fill="none" stroke="#111" stroke-width="0.95"/>
<text x="380.52" y="219.01" font-size="12.5" textLength="7.57" lengthAdjust="spacingAndGlyphs" fill="#1a1a1a" stroke="#1a1a1a" stroke-width="0.12">2</text>
<text x="380.70" y="171.34" font-size="12.5" textLength="7.27" lengthAdjust="spacingAndGlyphs" fill="#1a1a1a" stroke="#1a1a1a" stroke-width="0.12">3</text>
<text x="380.92" y="123.67" font-size="12.5" textLength="6.84" lengthAdjust="spacingAndGlyphs" fill="#1a1a1a" stroke="#1a1a1a" stroke-width="0.12">4</text>
<text x="380.68" y="76.00" font-size="12.5" textLength="7.27" lengthAdjust="spacingAndGlyphs" fill="#1a1a1a" stroke="#1a1a1a" stroke-width="0.12">5</text>
<text x="396.88" y="256.00" font-size="12.3" textLength="14.95" lengthAdjust="spacingAndGlyphs" fill="#1a1a1a" stroke="#1a1a1a" stroke-width="0.12">10</text>
<text x="411.80" y="251.60" font-size="9.0" textLength="4.39" lengthAdjust="spacingAndGlyphs" fill="#1a1a1a" stroke="#1a1a1a" stroke-width="0.12">1</text>
<text x="572.23" y="256.00" font-size="12.3" textLength="15.62" lengthAdjust="spacingAndGlyphs" fill="#1a1a1a" stroke="#1a1a1a" stroke-width="0.12">10</text>
<text x="587.54" y="251.60" font-size="9.0" textLength="5.13" lengthAdjust="spacingAndGlyphs" fill="#1a1a1a" stroke="#1a1a1a" stroke-width="0.12">2</text>
<text x="479.92" y="272.20" font-size="12.3" textLength="118.26" lengthAdjust="spacingAndGlyphs" fill="#1a1a1a" stroke="#1a1a1a" stroke-width="0.12">Number of variables</text>
<text transform="translate(375.50,160.52) rotate(-90)" x="0" y="0" font-size="11.0" textLength="32.40" lengthAdjust="spacingAndGlyphs" fill="#1a1a1a" stroke="#1a1a1a" stroke-width="0.12">RMSE</text>
<text x="355.25" y="14.60" font-size="21.5" textLength="6.15" lengthAdjust="spacingAndGlyphs" fill="#1a1a1a">(</text>
<text x="362.91" y="14.60" font-size="19.8" textLength="11.13" lengthAdjust="spacingAndGlyphs" fill="#1a1a1a">b</text>
<text x="375.09" y="14.60" font-size="21.5" textLength="6.28" lengthAdjust="spacingAndGlyphs" fill="#1a1a1a">)</text>
<rect x="393.80" y="6.60" width="290.20" height="37.40" rx="2.90" fill="#fff" fill-opacity="0.8" stroke="#d6d6d6" stroke-width="1.04"/>
<line x1="398.00" y1="15.70" x2="421.90" y2="15.70" stroke="#1f77b4" stroke-width="1.74" stroke-dasharray="6.43,2.78"/>
<line x1="410.30" y1="10.43" x2="410.30" y2="20.97" stroke="#1f77b4" stroke-width="1.74"/>
<line x1="408.74" y1="10.43" x2="411.86" y2="10.43" stroke="#1f77b4" stroke-width="1.74"/>
<line x1="408.74" y1="20.97" x2="411.86" y2="20.97" stroke="#1f77b4" stroke-width="1.74"/>
<text x="430.75" y="20.00" font-size="12.2" textLength="24.45" lengthAdjust="spacingAndGlyphs" fill="#1a1a1a" stroke="#1a1a1a" stroke-width="0.12">RDE</text>
<line x1="398.00" y1="32.70" x2="421.90" y2="32.70" stroke="#ff7f0e" stroke-width="1.74"/>
<line x1="410.30" y1="27.43" x2="410.30" y2="37.97" stroke="#ff7f0e" stroke-width="1.74"/>
<line x1="408.74" y1="27.43" x2="411.86" y2="27.43" stroke="#ff7f0e" stroke-width="1.74"/>
<line x1="408.74" y1="37.97" x2="411.86" y2="37.97" stroke="#ff7f0e" stroke-width="1.74"/>
<text x="430.73" y="37.00" font-size="12.2" textLength="25.58" lengthAdjust="spacingAndGlyphs" fill="#1a1a1a" stroke="#1a1a1a" stroke-width="0.12">MVE</text>
<line x1="462.60" y1="15.70" x2="487.00" y2="15.70" stroke="#2ca02c" stroke-width="1.74" stroke-dasharray="1.74,2.87"/>
<line x1="474.70" y1="10.43" x2="474.70" y2="20.97" stroke="#2ca02c" stroke-width="1.74"/>
<line x1="473.14" y1="10.43" x2="476.26" y2="10.43" stroke="#2ca02c" stroke-width="1.74"/>
<line x1="473.14" y1="20.97" x2="476.26" y2="20.97" stroke="#2ca02c" stroke-width="1.74"/>
<text x="495.77" y="20.00" font-size="12.2" textLength="27.48" lengthAdjust="spacingAndGlyphs" fill="#1a1a1a" stroke="#1a1a1a" stroke-width="0.12">SDW</text>
<line x1="462.60" y1="32.70" x2="487.00" y2="32.70" stroke="#d0d0d0" stroke-width="2.32"/>
<line x1="474.70" y1="27.43" x2="474.70" y2="37.97" stroke="#d0d0d0" stroke-width="2.32"/>
<line x1="473.14" y1="27.43" x2="476.26" y2="27.43" stroke="#d0d0d0" stroke-width="2.32"/>
<line x1="473.14" y1="37.97" x2="476.26" y2="37.97" stroke="#d0d0d0" stroke-width="2.32"/>
<text x="495.78" y="37.00" font-size="12.2" textLength="23.02" lengthAdjust="spacingAndGlyphs" fill="#1a1a1a" stroke="#1a1a1a" stroke-width="0.12">SBE</text>
<line x1="530.00" y1="15.70" x2="553.70" y2="15.70" stroke="#8a8a8a" stroke-width="1.00"/>
<line x1="542.10" y1="10.43" x2="542.10" y2="20.97" stroke="#444444" stroke-width="0.87"/>
<line x1="540.54" y1="10.43" x2="543.66" y2="10.43" stroke="#444444" stroke-width="0.87"/>
<line x1="540.54" y1="20.97" x2="543.66" y2="20.97" stroke="#444444" stroke-width="0.87"/>
<text x="563.10" y="20.00" font-size="12.2" textLength="22.08" lengthAdjust="spacingAndGlyphs" fill="#1a1a1a" stroke="#1a1a1a" stroke-width="0.12">SVE</text>
<line x1="530.00" y1="32.70" x2="553.70" y2="32.70" stroke="#a0a0a0" stroke-width="1.00" stroke-dasharray="2.67,1.28"/>
<line x1="542.10" y1="27.43" x2="542.10" y2="37.97" stroke="#444444" stroke-width="0.87"/>
<line x1="540.54" y1="27.43" x2="543.66" y2="27.43" stroke="#444444" stroke-width="0.87"/>
<line x1="540.54" y1="37.97" x2="543.66" y2="37.97" stroke="#444444" stroke-width="0.87"/>
<text x="563.18" y="37.00" font-size="12.2" textLength="22.81" lengthAdjust="spacingAndGlyphs" fill="#1a1a1a" stroke="#1a1a1a" stroke-width="0.12">AVE</text>
<line x1="592.90" y1="15.70" x2="616.40" y2="15.70" stroke="#d62728" stroke-width="1.74" stroke-dasharray="11.13,2.78,1.74,2.78"/>
<line x1="604.60" y1="10.43" x2="604.60" y2="20.97" stroke="#d62728" stroke-width="1.74"/>
<line x1="603.04" y1="10.43" x2="606.16" y2="10.43" stroke="#d62728" stroke-width="1.74"/>
<line x1="603.04" y1="20.97" x2="606.16" y2="20.97" stroke="#d62728" stroke-width="1.74"/>
<text x="625.56" y="20.30" font-size="12.6" textLength="54.59" lengthAdjust="spacingAndGlyphs" fill="#1a1a1a" stroke="#1a1a1a" stroke-width="0.12">proposed</text>
</svg>
</body></html>
